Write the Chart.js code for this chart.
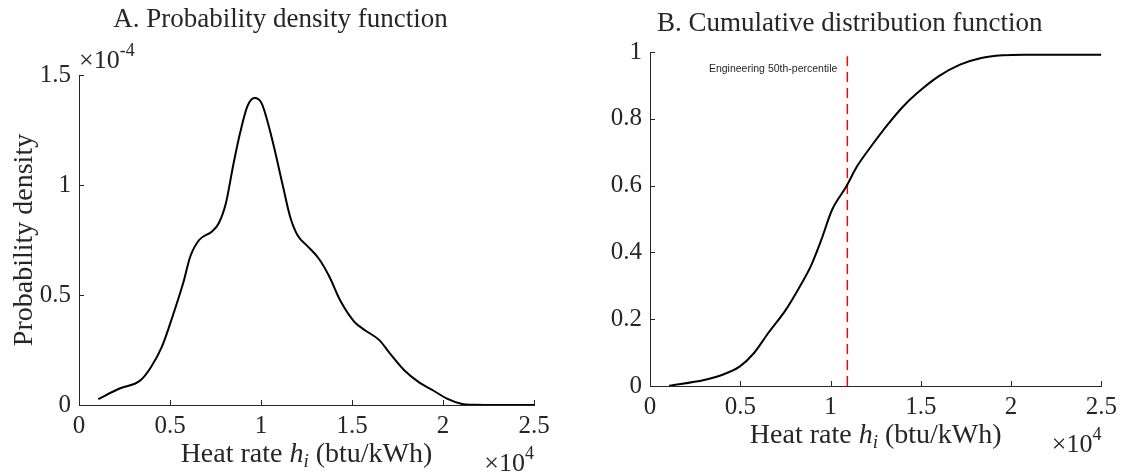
<!DOCTYPE html>
<html>
<head>
<meta charset="utf-8">
<script src="https://cdn.jsdelivr.net/npm/chart.js@4.4.1/dist/chart.umd.min.js"></script>
<style>
  body { margin: 0; background: #fff; }
  #wrap { position: relative; width: 1123px; height: 473px; }
  canvas { position: absolute; top: 0; }
</style>
</head>
<body>
<div id="wrap">
  <canvas id="pdf" width="561" height="473" style="left:0"></canvas>
  <canvas id="cdf" width="562" height="473" style="left:561px"></canvas>
</div>
<script>
// heat rate (btu/kWh) and kernel density estimate (x 1e-4 per btu/kWh)
const pdfHeatRate = [1060, 2200, 3370, 3960, 4550, 5130, 5720, 6110, 6600, 7290, 7680, 8070, 8460, 8850, 9250, 9640, 10030, 10620, 11210, 11600, 12000, 12580, 13170, 13760, 14340, 15130, 15710, 16500, 17090, 17870, 18650, 19440, 20220, 21000, 21800, 23000, 25000];
const pdfDensity = [0.027, 0.074, 0.112, 0.173, 0.264, 0.400, 0.553, 0.674, 0.750, 0.788, 0.826, 0.917, 1.084, 1.236, 1.357, 1.395, 1.372, 1.205, 0.993, 0.856, 0.773, 0.720, 0.666, 0.583, 0.477, 0.378, 0.340, 0.295, 0.234, 0.158, 0.105, 0.067, 0.029, 0.006, 0.001, 0, 0];

// cumulative distribution
const cdfHeatRate = [1060, 3000, 3980, 4960, 5750, 6540, 7520, 8300, 8900, 9490, 10080, 10870, 11460, 12240, 13230, 14020, 14800, 15980, 17170, 18350, 19530, 20700, 25000];
const cdfProb = [0.001, 0.018, 0.033, 0.058, 0.098, 0.158, 0.228, 0.298, 0.358, 0.438, 0.527, 0.597, 0.657, 0.717, 0.787, 0.837, 0.877, 0.927, 0.962, 0.982, 0.990, 0.992, 0.992];

const engineeringP50 = 10930;
const p50Top = 0.987;
const p50Label = 'Engineering 50th-percentile';

const xTicks = [0, 5000, 10000, 15000, 20000, 25000];
const pdfTicks = [0, 0.5e-4, 1e-4, 1.5e-4];
const cdfTicks = [0, 0.2, 0.4, 0.6, 0.8, 1];

const textColor = '#262626';
const serif = '"Liberation Serif", "Times New Roman", serif';
Chart.defaults.font.family = serif;
Chart.defaults.color = textColor;

const xLabelParts = [
  { t: 'Heat rate ', f: '28px' },
  { t: 'h', f: 'italic 28px' },
  { t: 'i', f: 'italic 19px', dy: 5 },
  { t: ' (btu/kWh)', f: '28px' },
];

function drawParts(ctx, parts, x, y, align) {
  let w = 0;
  parts.forEach(p => { ctx.font = p.f + ' ' + serif; w += ctx.measureText(p.t).width; });
  let cx = align === 'center' ? x - w / 2 : align === 'right' ? x - w : x;
  ctx.textAlign = 'left';
  ctx.textBaseline = 'alphabetic';
  parts.forEach(p => {
    ctx.font = p.f + ' ' + serif;
    ctx.fillText(p.t, cx, y + (p.dy || 0));
    cx += ctx.measureText(p.t).width;
  });
}

function decor(o) {
  return {
    id: 'decor',
    afterDraw(chart) {
      const { ctx, chartArea: a, scales: { x, y } } = chart;
      ctx.save();
      // inward tick marks
      ctx.strokeStyle = textColor;
      ctx.lineWidth = 1;
      ctx.beginPath();
      x.ticks.forEach(t => {
        const px = Math.round(x.getPixelForValue(t.value)) + 0.5;
        ctx.moveTo(px, a.bottom); ctx.lineTo(px, a.bottom - 5);
      });
      y.ticks.forEach(t => {
        const py = Math.round(y.getPixelForValue(t.value)) + 0.5;
        ctx.moveTo(a.left, py); ctx.lineTo(a.left + 5, py);
      });
      ctx.stroke();

      ctx.fillStyle = textColor;
      // title
      ctx.font = '27px ' + serif;
      ctx.textAlign = 'center';
      ctx.textBaseline = 'alphabetic';
      ctx.fillText(o.title, (a.left + a.right) / 2 + o.titleDx, o.titleY);

      // y label
      ctx.save();
      ctx.translate(o.yLabelX, (a.top + a.bottom) / 2);
      ctx.rotate(-Math.PI / 2);
      ctx.font = '28px ' + serif;
      ctx.fillText(o.yLabel, 0, 0);
      ctx.restore();

      // x label
      drawParts(ctx, xLabelParts, (a.left + a.right) / 2, a.bottom + 57, 'center');
      // x exponent
      drawParts(ctx, [{ t: '\u00d710', f: '26px' }, { t: '4', f: '18px', dy: -12 }], a.right, a.bottom + 66, 'right');
      // y exponent
      if (o.yExp) {
        drawParts(ctx, [{ t: '\u00d710', f: '26px' }, { t: o.yExp, f: '18px', dy: -12 }], a.left, a.top - 7, 'left');
      }
      // annotation
      if (o.note) {
        ctx.font = '10.5px "Liberation Sans", Arial, sans-serif';
        ctx.textAlign = 'right';
        ctx.fillText(o.note.text, x.getPixelForValue(o.note.x) - 10, y.getPixelForValue(o.note.y));
      }
      ctx.restore();
    }
  };
}

function axes(yTicks, yFmt, yWidth, xHeight) {
  return {
    x: {
      type: 'linear', min: 0, max: 25000,
      afterBuildTicks: s => { s.ticks = xTicks.map(v => ({ value: v })); },
      afterFit: s => { s.height = xHeight; },
      grid: { display: false, drawTicks: false },
      border: { display: true, color: textColor, width: 1 },
      ticks: { padding: 6, font: { size: 25 }, color: textColor, maxRotation: 0, callback: v => String(v / 1e4) },
    },
    y: {
      type: 'linear', min: yTicks[0], max: yTicks[yTicks.length - 1],
      afterBuildTicks: s => { s.ticks = yTicks.map(v => ({ value: v })); },
      afterFit: s => { s.width = yWidth; },
      grid: { display: false, drawTicks: false },
      border: { display: true, color: textColor, width: 1 },
      ticks: { padding: 8, font: { size: 25 }, color: textColor, callback: yFmt },
    },
  };
}

const common = {
  responsive: false,
  animation: false,
  plugins: { legend: { display: false }, tooltip: { enabled: false } },
  elements: { point: { radius: 0 } },
};

new Chart(document.getElementById('pdf'), {
  type: 'line',
  data: {
    datasets: [{
      data: pdfHeatRate.map((h, i) => ({ x: h, y: pdfDensity[i] * 1e-4 })),
      borderColor: '#000', borderWidth: 2, cubicInterpolationMode: 'monotone', fill: false,
    }],
  },
  options: {
    ...common,
    layout: { padding: { top: 75, right: 27, bottom: 0, left: 0 } },
    scales: axes(pdfTicks, v => String(+(v * 1e4).toFixed(2)), 79, 68),
  },
  plugins: [decor({ title: 'A. Probability density function', titleDx: -26, titleY: 27, yLabel: 'Probability density', yLabelX: 32, yExp: '-4' })],
});

new Chart(document.getElementById('cdf'), {
  type: 'line',
  data: {
    datasets: [
      {
        data: cdfHeatRate.map((h, i) => ({ x: h, y: cdfProb[i] })),
        borderColor: '#000', borderWidth: 2, cubicInterpolationMode: 'monotone', fill: false,
      },
      {
        data: [{ x: engineeringP50, y: 0 }, { x: engineeringP50, y: p50Top }],
        borderColor: '#ff0000', borderWidth: 1.5, borderDash: [10, 6], fill: false,
      },
    ],
  },
  options: {
    ...common,
    layout: { padding: { top: 52, right: 18, bottom: 0, left: 0 } },
    scales: axes(cdfTicks, v => String(v), 89, 87),
  },
  plugins: [decor({ title: 'B. Cumulative distribution function', titleDx: -26, titleY: 31, yLabel: 'Cumulative probability', yLabelX: 603, note: { text: p50Label, x: engineeringP50, y: 0.94 } })],
});
</script>
</body>
</html>
